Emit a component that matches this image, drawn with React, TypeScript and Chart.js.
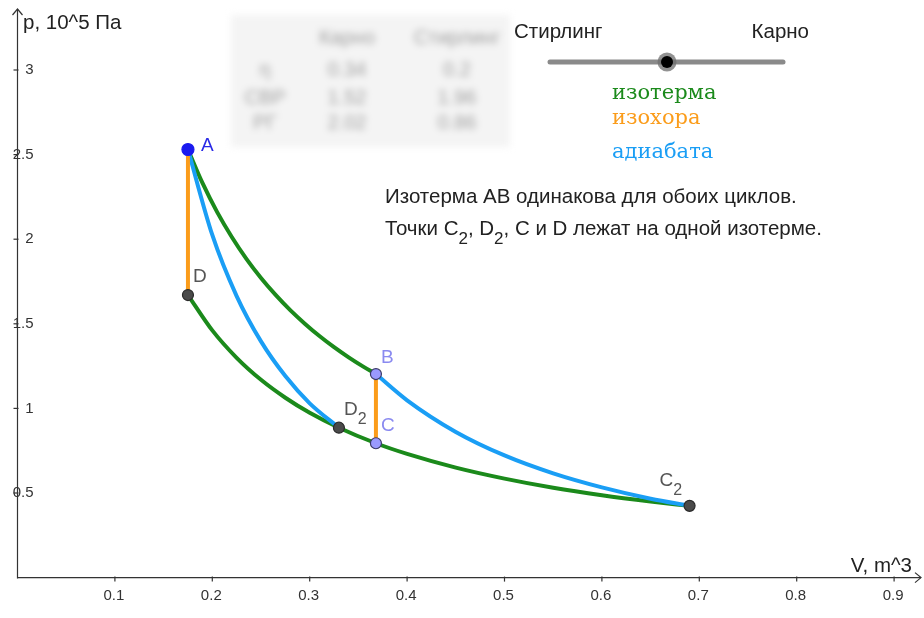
import React, { useEffect, useRef } from "react";
import { Chart, registerables } from "chart.js";

Chart.register(...registerables);

// ---- data ----
const xTickValues = [0.1, 0.2, 0.3, 0.4, 0.5, 0.6, 0.7, 0.8, 0.9];
const xTickLabels = ["0.1", "0.2", "0.3", "0.4", "0.5", "0.6", "0.7", "0.8", "0.9"];
const yTickValues = [0.5, 1, 1.5, 2, 2.5, 3];
const yTickLabels = ["0.5", "1", "1.5", "2", "2.5", "3"];

// isotherm A -> B (upper)
const isoUpperV = [0.175, 0.19, 0.205, 0.22, 0.235, 0.25, 0.265, 0.28, 0.295, 0.31, 0.325, 0.34, 0.355, 0.368];
const isoUpperP = [2.53, 2.331, 2.16, 2.013, 1.884, 1.771, 1.671, 1.581, 1.501, 1.428, 1.362, 1.302, 1.247, 1.203];

// isotherm D -> C2 (lower, through D2 and C)
const isoLowerV = [0.175, 0.2, 0.225, 0.25, 0.275, 0.3, 0.33, 0.368, 0.4, 0.45, 0.5, 0.55, 0.6, 0.65, 0.69];
const isoLowerP = [1.67, 1.461, 1.299, 1.169, 1.063, 0.974, 0.886, 0.794, 0.731, 0.65, 0.585, 0.531, 0.487, 0.45, 0.424];

// adiabat A -> D2
const adiaLeftV = [0.175, 0.2, 0.225, 0.25, 0.275, 0.3, 0.33];
const adiaLeftP = [2.53, 2.025, 1.664, 1.396, 1.191, 1.03, 0.886];

// adiabat B -> C2
const adiaRightV = [0.368, 0.4, 0.45, 0.5, 0.55, 0.6, 0.65, 0.69];
const adiaRightP = [1.203, 1.048, 0.861, 0.722, 0.616, 0.533, 0.466, 0.424];

// isochores
const isochoreADV = [0.175, 0.175];
const isochoreADP = [2.53, 1.67];
const isochoreBCV = [0.368, 0.368];
const isochoreBCP = [1.203, 0.794];

// named points
const pointNames = ["A", "B", "C", "D", "D", "C"];
const pointSubs = ["", "", "", "", "2", "2"];
const pointV = [0.175, 0.368, 0.368, 0.175, 0.33, 0.69];
const pointP = [2.53, 1.203, 0.794, 1.67, 0.886, 0.424];

// table (blurred in reference)
const tableHeader = ["", "Карно", "Стирлинг"];
const tableRows = [
  ["η", "0.34", "0.2"],
  ["СВР", "1.52", "1.96"],
  ["РГ", "2.02", "0.86"],
];

// ---- styles ----
const GREEN = "#1b8a1b";
const ORANGE = "#fb9c1a";
const BLUE = "#1a9ef5";
const SANS = "'Liberation Sans', Arial, sans-serif";
const SERIF = "'DejaVu Serif', 'Liberation Serif', serif";

const pointStyles = [
  { fill: "#1a1aef", stroke: "#1a1aef", r: 6, labelColor: "#2a2ae6", dx: 13, dy: -4 },
  { fill: "#9a9aff", stroke: "#3a3a66", r: 5.5, labelColor: "#8a8af0", dx: 5, dy: -16 },
  { fill: "#9a9aff", stroke: "#3a3a66", r: 5.5, labelColor: "#8a8af0", dx: 5, dy: -17 },
  { fill: "#4a4a4a", stroke: "#2a2a2a", r: 5.5, labelColor: "#555555", dx: 5, dy: -18 },
  { fill: "#4a4a4a", stroke: "#2a2a2a", r: 5.5, labelColor: "#555555", dx: 5, dy: -18 },
  { fill: "#4a4a4a", stroke: "#2a2a2a", r: 5.5, labelColor: "#555555", dx: -30, dy: -25 },
];

const toXY = (vs: number[], ps: number[]) => vs.map((v, i) => ({ x: v, y: ps[i] }));

function drawSubText(ctx: CanvasRenderingContext2D, parts: { t: string; sub?: boolean }[], x: number, y: number, size: number, color: string) {
  let cx = x;
  ctx.fillStyle = color;
  ctx.textBaseline = "middle";
  ctx.textAlign = "left";
  for (const p of parts) {
    if (p.sub) {
      ctx.font = `${Math.round(size * 0.85)}px ${SANS}`;
      ctx.fillText(p.t, cx, y + size * 0.5);
    } else {
      ctx.font = `${size}px ${SANS}`;
      ctx.fillText(p.t, cx, y);
    }
    cx += ctx.measureText(p.t).width;
  }
}

const overlayPlugin = {
  id: "overlay",
  beforeDatasetsDraw(chart: any) {
    const ctx: CanvasRenderingContext2D = chart.ctx;
    const xs = chart.scales.x;
    const ys = chart.scales.y;
    const x0 = xs.getPixelForValue(0);
    const y0 = ys.getPixelForValue(0);
    ctx.save();
    ctx.strokeStyle = "#333";
    ctx.lineWidth = 1.2;
    ctx.beginPath();
    ctx.moveTo(x0, y0);
    ctx.lineTo(921, y0);
    ctx.stroke();
    ctx.beginPath();
    ctx.moveTo(915, y0 - 5);
    ctx.lineTo(921, y0);
    ctx.lineTo(915, y0 + 5);
    ctx.stroke();
    ctx.beginPath();
    ctx.moveTo(x0, y0 + 1);
    ctx.lineTo(x0, 9);
    ctx.stroke();
    ctx.beginPath();
    ctx.moveTo(x0 - 5, 15);
    ctx.lineTo(x0, 9);
    ctx.lineTo(x0 + 5, 15);
    ctx.stroke();
    ctx.fillStyle = "#333";
    ctx.font = `15px ${SANS}`;
    ctx.textAlign = "center";
    ctx.textBaseline = "middle";
    xTickValues.forEach((v, i) => {
      const px = xs.getPixelForValue(v);
      ctx.beginPath();
      ctx.moveTo(px, y0 - 1);
      ctx.lineTo(px, y0 + 4);
      ctx.stroke();
      ctx.fillText(xTickLabels[i], px - 1, y0 + 18);
    });
    ctx.textAlign = "right";
    yTickValues.forEach((v, i) => {
      const py = ys.getPixelForValue(v);
      ctx.beginPath();
      ctx.moveTo(x0 - 4, py);
      ctx.lineTo(x0 + 1, py);
      ctx.stroke();
      ctx.fillText(yTickLabels[i], x0 + 16, py);
    });
    ctx.font = `20.5px ${SANS}`;
    ctx.textAlign = "left";
    ctx.fillStyle = "#222";
    ctx.fillText("p, 10^5 Па", 23, 23);
    ctx.textAlign = "right";
    ctx.fillText("V, m^3", 912, 566);
    ctx.restore();
  },
  afterDatasetsDraw(chart: any) {
    const ctx: CanvasRenderingContext2D = chart.ctx;
    const xs = chart.scales.x;
    const ys = chart.scales.y;
    ctx.save();
    pointV.forEach((v, i) => {
      const st = pointStyles[i];
      const px = xs.getPixelForValue(v);
      const py = ys.getPixelForValue(pointP[i]);
      ctx.beginPath();
      ctx.arc(px, py, st.r, 0, Math.PI * 2);
      ctx.fillStyle = st.fill;
      ctx.fill();
      ctx.lineWidth = 1.2;
      ctx.strokeStyle = st.stroke;
      ctx.stroke();
      const parts: { t: string; sub?: boolean }[] = [{ t: pointNames[i] }];
      if (pointSubs[i]) parts.push({ t: pointSubs[i], sub: true });
      drawSubText(ctx, parts, px + st.dx, py + st.dy, 19, st.labelColor);
    });

    // slider
    ctx.font = `20.5px ${SANS}`;
    ctx.fillStyle = "#222";
    ctx.textBaseline = "middle";
    ctx.textAlign = "left";
    ctx.fillText("Стирлинг", 514, 32);
    ctx.textAlign = "right";
    ctx.fillText("Карно", 809, 32);
    ctx.lineCap = "round";
    ctx.strokeStyle = "#8a8a8a";
    ctx.lineWidth = 5;
    ctx.beginPath();
    ctx.moveTo(550, 62);
    ctx.lineTo(783, 62);
    ctx.stroke();
    ctx.beginPath();
    ctx.arc(667, 62, 9.5, 0, Math.PI * 2);
    ctx.fillStyle = "rgba(110,110,110,0.75)";
    ctx.fill();
    ctx.beginPath();
    ctx.arc(667, 62, 6, 0, Math.PI * 2);
    ctx.fillStyle = "#000";
    ctx.fill();

    // legend words
    ctx.font = `21px ${SERIF}`;
    ctx.textAlign = "left";
    ctx.fillStyle = GREEN;
    ctx.fillText("изотерма", 612, 94);
    ctx.fillStyle = ORANGE;
    ctx.fillText("изохора", 612, 119);
    ctx.fillStyle = BLUE;
    ctx.fillText("адиабата", 612, 153);

    // note text
    drawSubText(ctx, [{ t: "Изотерма AB одинакова для обоих циклов." }], 385, 197, 20.5, "#222");
    drawSubText(
      ctx,
      [
        { t: "Точки C" },
        { t: "2", sub: true },
        { t: ", D" },
        { t: "2", sub: true },
        { t: ", C и D лежат на одной изотерме." },
      ],
      385,
      229,
      20.5,
      "#222"
    );
    ctx.restore();
  },
};

export default function App() {
  const ref = useRef<HTMLCanvasElement | null>(null);

  useEffect(() => {
    if (!ref.current) return;
    const lineDs = (data: { x: number; y: number }[], color: string, tension: number) => ({
      data,
      showLine: true,
      borderColor: color,
      backgroundColor: color,
      borderWidth: 4,
      pointRadius: 0,
      pointHoverRadius: 0,
      tension,
      cubicInterpolationMode: "monotone" as const,
      fill: false,
    });
    const chart = new Chart(ref.current, {
      type: "scatter",
      data: {
        datasets: [
          lineDs(toXY(isoUpperV, isoUpperP), GREEN, 0.4),
          lineDs(toXY(isoLowerV, isoLowerP), GREEN, 0.4),
          lineDs(toXY(adiaLeftV, adiaLeftP), BLUE, 0.4),
          lineDs(toXY(adiaRightV, adiaRightP), BLUE, 0.4),
          lineDs(toXY(isochoreADV, isochoreADP), ORANGE, 0),
          lineDs(toXY(isochoreBCV, isochoreBCP), ORANGE, 0),
        ].map((d, i) => ({ ...d, order: 10 - i })),
      },
      options: {
        responsive: false,
        animation: false,
        events: [],
        layout: { padding: 0 },
        plugins: { legend: { display: false }, tooltip: { enabled: false } },
        scales: {
          x: { type: "linear", display: false, min: -17.5 / 974, max: (924 - 17.5) / 974 },
          y: { type: "linear", display: false, min: -(618 - 577.6) / 169.2, max: 577.6 / 169.2 },
        },
      },
      plugins: [overlayPlugin],
    });
    return () => chart.destroy();
  }, []);

  const colX = [265, 347, 457];
  const rowY = [37, 69, 97, 122];

  return (
    <div style={{ position: "absolute", left: 0, top: 0, width: 924, height: 618, background: "#fff", overflow: "hidden" }}>
      <div
        style={{
          position: "absolute",
          left: 231,
          top: 15,
          width: 279,
          height: 132,
          background: "#f4f4f4",
          filter: "blur(3.5px)",
          fontFamily: SANS,
          fontSize: 20,
          color: "#a0a0a0",
        }}
      >
        {[tableHeader, ...tableRows].map((row, ri) =>
          row.map((cell, ci) => (
            <div
              key={ri + "-" + ci}
              style={{
                position: "absolute",
                left: colX[ci] - 231 - 60,
                width: 120,
                top: rowY[ri] - 15 - 12,
                textAlign: "center",
                lineHeight: "24px",
              }}
            >
              {cell}
            </div>
          ))
        )}
      </div>
      <canvas ref={ref} width={924} height={618} style={{ position: "absolute", left: 0, top: 0, width: 924, height: 618 }} />
    </div>
  );
}
